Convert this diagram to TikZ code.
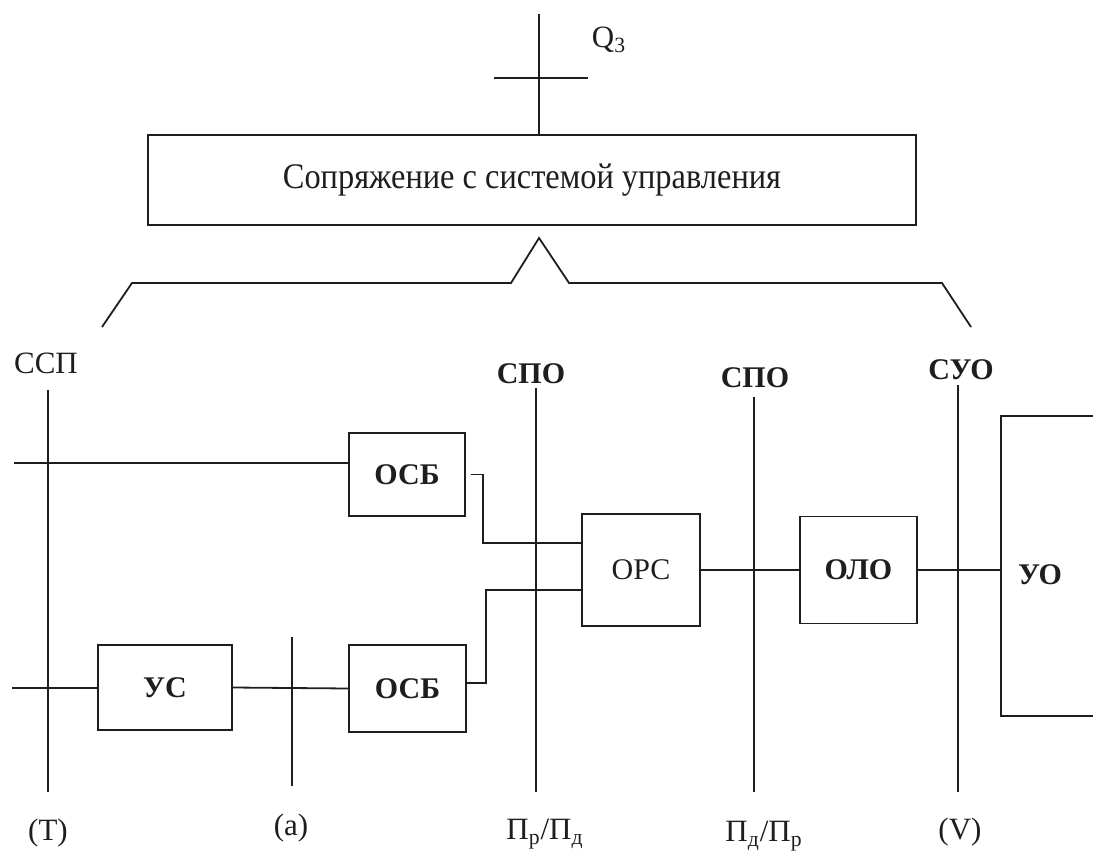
\documentclass[tikz,border=0pt]{standalone}
\usepackage{fontspec}
\setmainfont{Liberation Serif}
\usepackage{tikz}
\usetikzlibrary{positioning,calc}
\definecolor{ink}{RGB}{30,30,30}
\tikzset{
  blk/.style={draw=ink, line width=0.9pt, inner sep=0pt,
              font=\bfseries\fontsize{15}{18}\selectfont, text=ink},
  wire/.style={ink, line width=0.9pt},
  tag/.style={inner sep=1pt, font=\fontsize{15.5}{18}\selectfont, text=ink},
  btag/.style={tag, font=\bfseries\fontsize{15}{18}\selectfont},
}

\begin{document}
\begin{tikzpicture}[x=0.5pt,y=-0.5pt]
        \useasboundingbox (0,0) rectangle (1093,851);
        % control interface and its input
        \node[blk,font=\fontsize{18}{21}\selectfont,minimum width=384pt,minimum height=45pt] (ctrl) at (532,180) {\scalebox{0.9}[1]{Сопряжение с системой управления}};
        \coordinate (qtop) at (539,14);
        \coordinate (ql) at (494,78);
        \coordinate (qr) at (588,78);
        \node[tag] (qlab) at (609,40) {Q\textsubscript{3}};
        \draw[wire] (qtop) -- (qtop |- ctrl.north);
        \draw[wire] (ql) -- (qr);
        \draw[wire] (102,327) -- (132,283) -- (511,283) -- (539,238) -- (569,283) -- (942,283) -- (971,327);
        % vertical sections
        \node[tag] (tssp) at (46,363) {ССП};
        \node[btag] (tspo1) at (531,374) {СПО};
        \node[btag] (tspo2) at (755,378) {СПО};
        \node[btag] (tsuo) at (961,370) {СУО};
        \node[tag] (bt) at (48,833) {(T)};
        \node[tag] (ba) at (291,828) {(a)};
        \node[tag] (bpo1) at (545,834) {П\textsubscript{р}/П\textsubscript{д}};
        \node[tag] (bpo2) at (764,836) {П\textsubscript{д}/П\textsubscript{р}};
        \node[tag] (bv) at (960,832) {(V)};
        \coordinate (t1) at (48,390);   \coordinate (t2) at (48,792);
        \coordinate (a1) at (292,637);  \coordinate (a2) at (292,786);
        \coordinate (p1) at (536,388);  \coordinate (p2) at (536,792);
        \coordinate (r1) at (754,397);  \coordinate (r2) at (754,792);
        \coordinate (s1) at (958,385);  \coordinate (s2) at (958,792);
        \foreach \u/\v in {t1/t2,a1/a2,p1/p2,r1/r2,s1/s2} \draw[wire] (\u) -- (\v);
        % blocks
        \node[blk,minimum width=58pt,minimum height=41.5pt] (osb1) at (407,474.5) {ОСБ};
        \node[blk,minimum width=58.5pt,minimum height=43.5pt] (osb2) at (407.5,688.5) {ОСБ};
        \node[blk,minimum width=67pt,minimum height=42.5pt] (us) at (165,687.5) {УС};
        \node[blk,font=\fontsize{15}{18}\selectfont,minimum width=59pt,minimum height=56pt] (ors) at (641,570) {ОРС};
        \node[blk,minimum width=58.5pt,minimum height=53.5pt] (olo) at (858.5,570) {ОЛО};
        \node[blk,minimum width=100pt,minimum height=150pt] (uo) at (1101,566) {};
        \node[btag] (uolab) at (1040,575) {УО};
        % links
        \coordinate (in1) at (14,463);
        \coordinate (in2) at (12,688);
        \draw[wire] (in1) -- (in1 -| osb1.west);
        \draw[wire] (in2) -- (in2 -| us.west);
        \draw[wire] (us.east) -- (osb2.west);
        \draw[wire] ([xshift=2.5pt]osb1.east) -- ++(6pt,0) |- ([yshift=13.5pt]ors.west);
        \draw[wire] ([yshift=2.75pt]osb2.east) -- ++(9.5pt,0) |- ([yshift=-10pt]ors.west);
        \draw[wire] (ors.east |- olo.west) -- (olo.west);
        \draw[wire] (olo.east) -- (olo.east -| uo.west);
      \end{tikzpicture}
\end{document}
